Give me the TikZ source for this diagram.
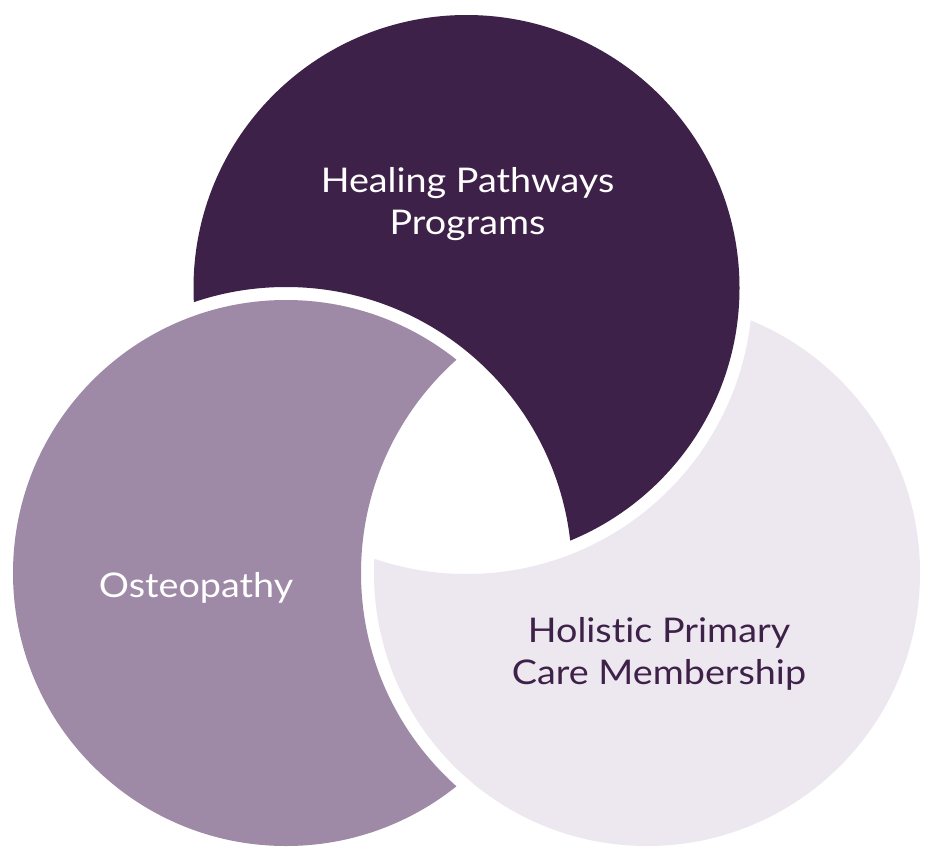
\documentclass[tikz,border=0pt]{standalone}
\usepackage{fontspec}
\setmainfont{Lato}[FakeStretch=1.11, Ligatures={NoCommon}]
\definecolor{dk}{HTML}{3E2148}
\definecolor{md}{HTML}{9E8AA6}
\definecolor{lt}{HTML}{EDE7EF}
\tikzset{
  lbl/.style={align=center, font=\fontsize{34}{42}\selectfont, inner sep=0pt}
}
\begin{document}
\begin{tikzpicture}[x=1pt,y=-1pt]
\useasboundingbox[fill=white] (0,0) rectangle (932,862);
\coordinate (A) at (466.5,288);
\coordinate (B) at (286,573);
\coordinate (C) at (647,573);
\def\rr{273pt}
\def\RR{286pt}
\begin{scope}
  \clip (A) circle[radius=\rr];
  \fill[dk, even odd rule] (-20,-20) rectangle (952,882) (B) circle[radius=\RR];
\end{scope}
\begin{scope}
  \clip (B) circle[radius=\rr];
  \fill[md, even odd rule] (-20,-20) rectangle (952,882) (C) circle[radius=\RR];
\end{scope}
\begin{scope}
  \clip (C) circle[radius=\rr];
  \fill[lt, even odd rule] (-20,-20) rectangle (952,882) (A) circle[radius=\RR];
\end{scope}
\node[lbl, text=white] (hp) at (467.5,204.5) {Healing Pathways\\Programs};
\node[lbl, text=white] (os) at (196,588) {Osteopathy};
\node[lbl, text=dk] (hc) at (659,653.5) {Holistic Primary\\Care Membership};
\end{tikzpicture}
\end{document}
